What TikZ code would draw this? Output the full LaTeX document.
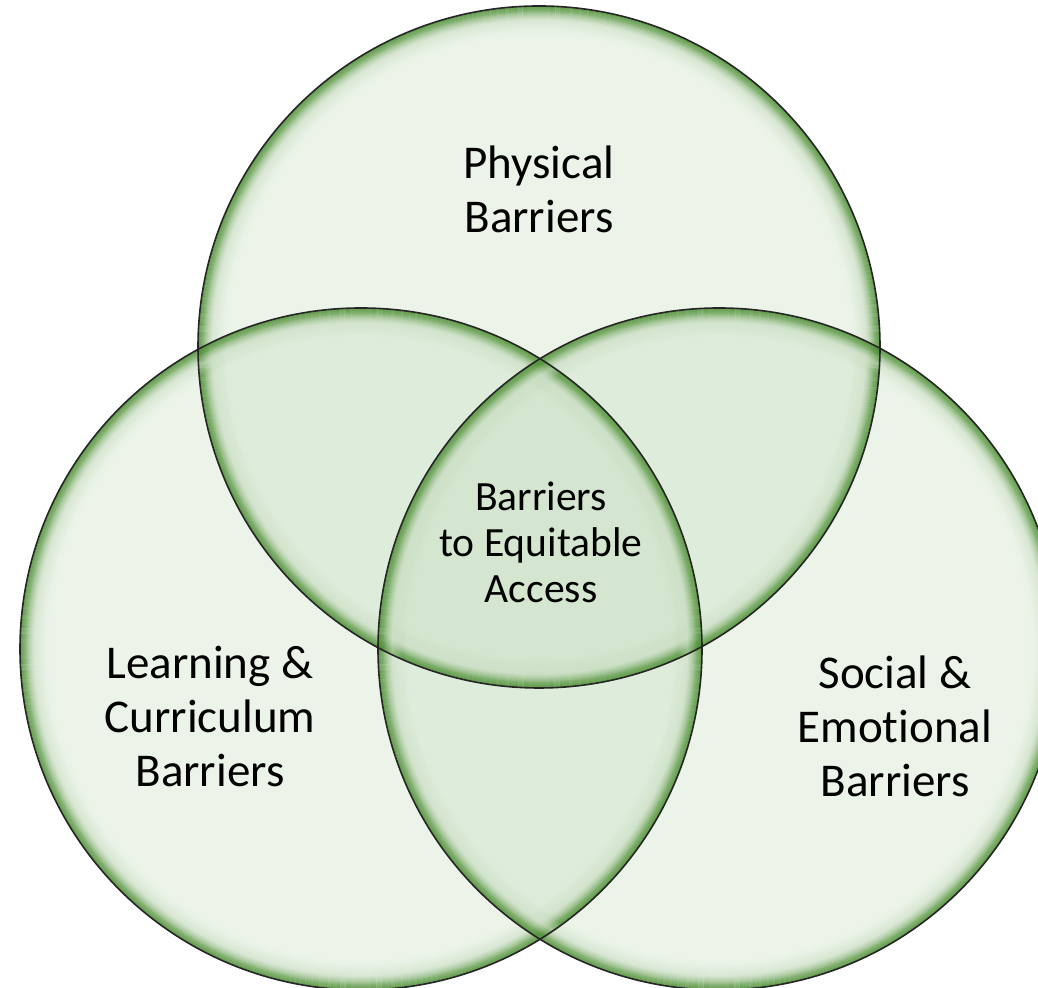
\documentclass[tikz,border=0pt]{standalone}
\usepackage{fontspec}
\setmainfont{Carlito}[Ligatures=NoCommon]
\definecolor{vfill}{RGB}{185,214,177}
\definecolor{vrim}{RGB}{80,145,55}
\tikzset{
  lbl/.style={align=center, text=black, inner sep=0pt, font=\fontsize{23.5pt}{27pt}\selectfont},
  clbl/.style={align=center, text=black, inner sep=0pt, font=\fontsize{20.8pt}{23pt}\selectfont},
  rimline/.style={vrim, line width=0.6pt},
  outline/.style={black!85, line width=0.8pt}
}
\begin{document}
\begin{tikzpicture}[x=0.5pt,y=0.5pt]
\useasboundingbox (0,0) rectangle (1038,988);
\clip (0,0) rectangle (1038,988);
\coordinate (T) at (539,641);
\coordinate (L) at (361,339);
\coordinate (R) at (719,339);
% fills
\foreach \c in {T,L,R}
  \fill[vfill, fill opacity=0.27] (\c) circle[radius=341];
% rims
\foreach \c in {T,L,R}{
  \foreach \k in {0,...,29}{
    \pgfmathsetmacro\op{0.85*(1-\k/30)^2.2}
    \draw[rimline, draw opacity=\op] (\c) circle[radius=340.5-\k];
  }
  \foreach \k in {6,...,24}{
    \pgfmathsetmacro\op{0.32*(1-abs(\k-14)/10)}
    \draw[white, line width=0.6pt, draw opacity=\op] (\c) circle[radius=340.5-\k];
  }
}
% outlines
\foreach \c in {T,L,R}
  \draw[outline] (\c) circle[radius=341];
% labels
\node[lbl] (phys) at (539,799) {Physical\\Barriers};
\node[lbl] (learn) at (210,271) {Learning \&\\Curriculum\\Barriers};
\node[lbl] (social) at (895,262) {Social \&\\Emotional\\Barriers};
\node[clbl] (equit) at (541,446) {Barriers\\to Equitable\\Access};
\end{tikzpicture}
\end{document}
